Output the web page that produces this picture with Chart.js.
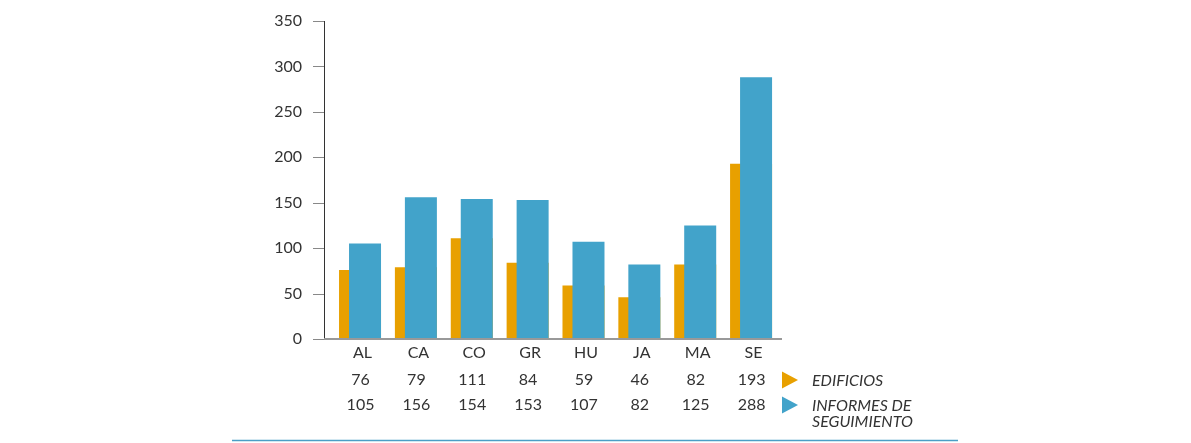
<!DOCTYPE html>
<html>
<head>
<meta charset="utf-8">
<script src="https://cdn.jsdelivr.net/npm/chart.js@4.4.1/dist/chart.umd.min.js"></script>
<style>
  html, body { margin: 0; padding: 0; background: #fff; }
  #wrap { position: relative; width: 1191px; height: 443px; }
</style>
</head>
<body>
<div id="wrap"><canvas id="barChart"></canvas></div>
<script>
// datos
var categorias = ['AL', 'CA', 'CO', 'GR', 'HU', 'JA', 'MA', 'SE'];
var edificios = [76, 79, 111, 84, 59, 46, 82, 193];
var informes = [105, 156, 154, 153, 107, 82, 125, 288];
var serieNombres = ['EDIFICIOS', ['INFORMES DE', 'SEGUIMIENTO']];
var yMax = 350;
var yPaso = 50;

var naranja = '#E8A000';
var azul = '#42A3CA';
var texto = '#333333';
var fuente = 'Lato, "Open Sans", sans-serif';

// dibuja ejes, tabla de valores y leyenda
var extras = {
  id: 'extras',
  beforeDatasetDraw: function (chart, args) {
    // la serie azul va encima de la naranja
    if (args.index === 1) return false;
  },
  afterDatasetsDraw: function (chart) {
    var meta = chart.getDatasetMeta(1);
    if (meta.visible) meta.controller.draw();
  },
  afterDraw: function (chart) {
    var ctx = chart.ctx;
    var xs = chart.scales.x;
    var ys = chart.scales.y;
    var area = chart.chartArea;
    var ejeX = 324.5;

    ctx.save();
    // marcas del eje y
    ctx.strokeStyle = '#888';
    ctx.lineWidth = 1;
    ys.ticks.forEach(function (t) {
      var py = Math.round(ys.getPixelForValue(t.value)) + 0.5;
      ctx.beginPath();
      ctx.moveTo(313, py);
      ctx.lineTo(ejeX, py);
      ctx.stroke();
    });
    // eje y
    ctx.strokeStyle = '#333';
    ctx.beginPath();
    ctx.moveTo(ejeX, area.top);
    ctx.lineTo(ejeX, area.bottom);
    ctx.stroke();
    // eje x
    ctx.strokeStyle = '#999';
    ctx.lineWidth = 2;
    ctx.beginPath();
    ctx.moveTo(ejeX - 0.5, area.bottom);
    ctx.lineTo(782, area.bottom);
    ctx.stroke();

    // tabla de valores
    ctx.fillStyle = texto;
    ctx.font = '16px ' + fuente;
    ctx.textAlign = 'center';
    ctx.textBaseline = 'middle';
    categorias.forEach(function (c, i) {
      var px = xs.getPixelForValue(i) - 2;
      ctx.fillText(String(edificios[i]), px, 380);
      ctx.fillText(String(informes[i]), px, 405);
    });

    // leyenda
    var filas = [[naranja, 380], [azul, 405]];
    filas.forEach(function (f, k) {
      ctx.fillStyle = f[0];
      ctx.beginPath();
      ctx.moveTo(782, f[1] - 8.5);
      ctx.lineTo(798, f[1]);
      ctx.lineTo(782, f[1] + 8.5);
      ctx.closePath();
      ctx.fill();
      ctx.fillStyle = texto;
      ctx.font = 'italic 16px ' + fuente;
      ctx.textAlign = 'left';
      var lineas = [].concat(serieNombres[k]);
      lineas.forEach(function (l, j) {
        ctx.fillText(l, 812, f[1] + 1 + j * 15.5);
      });
    });

    // linea inferior
    ctx.strokeStyle = '#4A9FC6';
    ctx.lineWidth = 1.5;
    ctx.beginPath();
    ctx.moveTo(232, 440.5);
    ctx.lineTo(958, 440.5);
    ctx.stroke();
    ctx.restore();
  }
};

var ctx = document.getElementById('barChart').getContext('2d');
new Chart(ctx, {
  type: 'bar',
  data: {
    labels: categorias,
    datasets: [
      {
        label: 'EDIFICIOS',
        data: edificios,
        backgroundColor: naranja,
        categoryPercentage: 0.179,
        barPercentage: 10,
        maxBarThickness: 42
      },
      {
        label: 'INFORMES DE SEGUIMIENTO',
        data: informes,
        backgroundColor: azul,
        categoryPercentage: 0.179,
        barPercentage: 10,
        maxBarThickness: 32
      }
    ]
  },
  options: {
    responsive: true,
    maintainAspectRatio: false,
    animation: false,
    layout: { padding: { left: 0, right: 409.5, top: 21, bottom: 0 } },
    plugins: {
      legend: { display: false },
      tooltip: { enabled: false }
    },
    scales: {
      x: {
        offset: true,
        grid: { display: false, drawTicks: false },
        border: { display: false },
        ticks: {
          color: texto,
          font: { family: fuente, size: 16 },
          padding: 4,
          maxRotation: 0
        },
        afterFit: function (s) { s.height = 104; }
      },
      y: {
        min: 0,
        max: yMax,
        // la distancia de las etiquetas va en tickLength, no en padding
        grid: { display: false, drawTicks: true, tickLength: 30.6 },
        border: { display: false },
        ticks: {
          stepSize: yPaso,
          color: texto,
          font: { family: fuente, size: 16 },
          padding: 2
        },
        afterFit: function (s) { s.width = 334.6; }
      }
    }
  },
  plugins: [extras]
});
</script>
</body>
</html>
